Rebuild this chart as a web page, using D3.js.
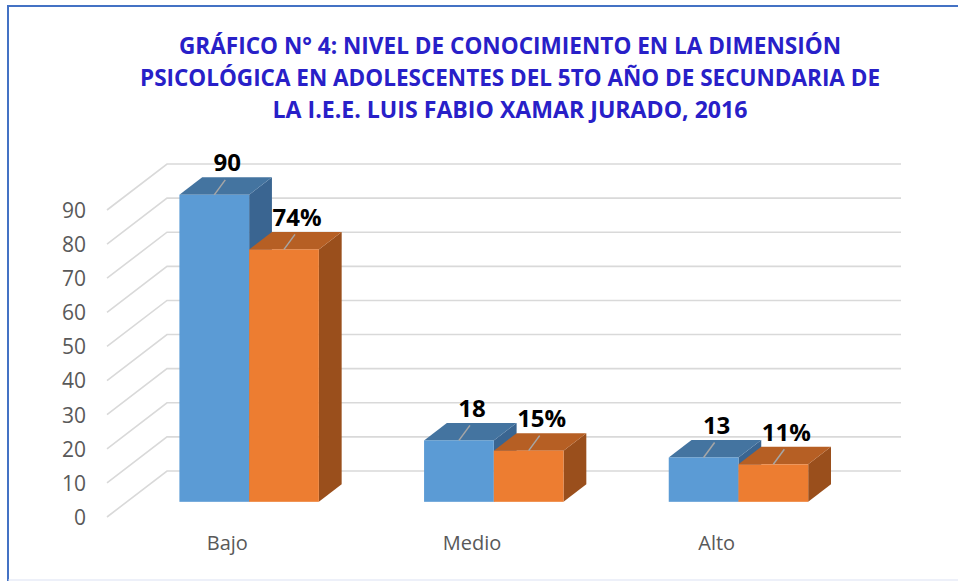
<!DOCTYPE html>
<html>
<head>
<meta charset="utf-8">
<script src="https://cdn.jsdelivr.net/npm/d3@7"></script>
<style>
  html, body { margin: 0; padding: 0; background: #fff; }
  text { font-family: "Open Sans", "Noto Sans", sans-serif; }
</style>
</head>
<body>
<svg id="chart"></svg>
<script>
// datos del grafico
const categorias = ["Bajo", "Medio", "Alto"];
const series = ["frecuencia", "porcentaje"];
const frecuencia = [90, 18, 13];
const porcentaje = [74, 15, 11];
const etiquetasFrecuencia = ["90", "18", "13"];
const etiquetasPorcentaje = ["74%", "15%", "11%"];
const ticksY = [0, 10, 20, 30, 40, 50, 60, 70, 80, 90];
const tituloLineas = [
  "GRÁFICO N° 4: NIVEL DE CONOCIMIENTO EN LA DIMENSIÓN",
  "PSICOLÓGICA EN ADOLESCENTES DEL 5TO AÑO DE SECUNDARIA DE",
  "LA I.E.E. LUIS FABIO XAMAR JURADO, 2016"
];

const width = 958;
const height = 581;

// profundidad del efecto 3D (pared izquierda -> fondo)
const depth = { dx: 60, dy: -46 };
const z0 = 0.33, z1 = 0.71;

const colores = {
  frecuencia: { front: "#5B9BD5", top: "#4474A0", side: "#3A6591" },
  porcentaje: { front: "#ED7D31", top: "#B65F24", side: "#9A4F1C" }
};

const svg = d3.select("#chart")
  .attr("width", width)
  .attr("height", height);

svg.append("rect")
  .attr("width", width)
  .attr("height", height)
  .attr("fill", "#fff");

// borde del grafico
svg.append("path")
  .attr("d", `M8,${height} V6 H${width}`)
  .attr("fill", "none")
  .attr("stroke", "#4472C4")
  .attr("stroke-width", 2);
svg.append("line")
  .attr("x1", 8).attr("x2", width)
  .attr("y1", 580).attr("y2", 580)
  .attr("stroke", "#dbe1f3")
  .attr("stroke-width", 1);

// titulo
const tituloAnchos = [662, 740, 475];
svg.append("g")
  .selectAll("text")
  .data(tituloLineas)
  .join("text")
  .attr("x", 510)
  .attr("y", (d, i) => 44 + i * 32)
  .attr("text-anchor", "middle")
  .attr("dominant-baseline", "central")
  .attr("textLength", (d, i) => tituloAnchos[i])
  .attr("lengthAdjust", "spacingAndGlyphs")
  .attr("font-size", 24)
  .attr("font-weight", "bold")
  .attr("fill", "#2820C8")
  .text(d => d);

// escalas
const yScale = d3.scaleLinear()
  .domain([0, 90])
  .range([517, 210]);

const xScale = d3.scaleBand()
  .domain(categorias)
  .range([107, 841])
  .paddingInner(0.43)
  .paddingOuter(0.215);

const xSerie = d3.scaleBand()
  .domain(series)
  .range([0, xScale.bandwidth()]);

// lineas de cuadricula (pared izquierda + fondo)
const xFin = 841 + depth.dx;
svg.append("g")
  .selectAll("path")
  .data(ticksY)
  .join("path")
  .attr("d", d => {
    const y0 = yScale(d);
    return `M107,${y0} L${107 + depth.dx},${y0 + depth.dy} L${xFin},${y0 + depth.dy}`;
  })
  .attr("fill", "none")
  .attr("stroke", "#d9d9d9")
  .attr("stroke-width", 1.6);

// eje Y
const yAxis = d3.axisLeft(yScale).tickValues(ticksY).tickSize(0).tickPadding(0);
svg.append("g")
  .attr("transform", "translate(86,0)")
  .call(yAxis)
  .call(g => g.select(".domain").remove())
  .call(g => g.selectAll("text")
    .attr("font-size", 21)
    .attr("fill", "#595959")
    .attr("dy", "0.35em")
    .style("font-family", "'Open Sans', sans-serif"));

// eje X (etiquetas de categoria)
const xAxis = d3.axisBottom(xScale).tickSize(0).tickPadding(0);
svg.append("g")
  .attr("transform", "translate(-2,536)")
  .call(xAxis)
  .call(g => g.select(".domain").remove())
  .call(g => g.selectAll("text")
    .attr("font-size", 20)
    .attr("fill", "#595959")
    .style("font-family", "'Open Sans', sans-serif"));

// barras 3D
const datos = [];
categorias.forEach((c, i) => {
  datos.push({ cat: c, serie: "frecuencia", valor: frecuencia[i], etiqueta: etiquetasFrecuencia[i] });
  datos.push({ cat: c, serie: "porcentaje", valor: porcentaje[i], etiqueta: etiquetasPorcentaje[i] });
});

const tx = (z1 - z0) * depth.dx;
const ty = (z1 - z0) * depth.dy;

datos.forEach(d => {
  d.x0 = xScale(d.cat) + xSerie(d.serie) + z0 * depth.dx;
  d.x1 = d.x0 + xSerie.bandwidth();
  d.yTop = yScale(d.valor) + z0 * depth.dy;
  d.yBot = yScale(0) + z0 * depth.dy;
});

const barras = svg.append("g")
  .selectAll("g")
  .data(datos)
  .join("g");

barras.append("path")
  .attr("d", d => `M${d.x1},${d.yTop} L${d.x1 + tx},${d.yTop + ty} L${d.x1 + tx},${d.yBot + ty} L${d.x1},${d.yBot} Z`)
  .attr("fill", d => colores[d.serie].side);

barras.append("path")
  .attr("d", d => `M${d.x0},${d.yTop} L${d.x0 + tx},${d.yTop + ty} L${d.x1 + tx},${d.yTop + ty} L${d.x1},${d.yTop} Z`)
  .attr("fill", d => colores[d.serie].top);

barras.append("rect")
  .attr("x", d => d.x0)
  .attr("y", d => d.yTop)
  .attr("width", d => d.x1 - d.x0)
  .attr("height", d => d.yBot - d.yTop)
  .attr("fill", d => colores[d.serie].front);

// lineas guia de etiquetas
svg.append("g")
  .selectAll("line")
  .data(datos)
  .join("line")
  .attr("x1", d => (d.x0 + d.x1) / 2)
  .attr("y1", d => d.yTop)
  .attr("x2", d => (d.x0 + d.x1) / 2 + 11)
  .attr("y2", d => d.yTop - 15)
  .attr("stroke", "#a6a6a6")
  .attr("stroke-width", 1.5);

// etiquetas de datos
svg.append("g")
  .selectAll("text")
  .data(datos)
  .join("text")
  .attr("x", d => (d.x0 + d.x1) / 2 + 13)
  .attr("y", d => d.yTop - 33)
  .attr("text-anchor", "middle")
  .attr("dominant-baseline", "central")
  .attr("font-size", 24)
  .attr("font-weight", "bold")
  .attr("fill", "#000")
  .text(d => d.etiqueta);
</script>
</body>
</html>
